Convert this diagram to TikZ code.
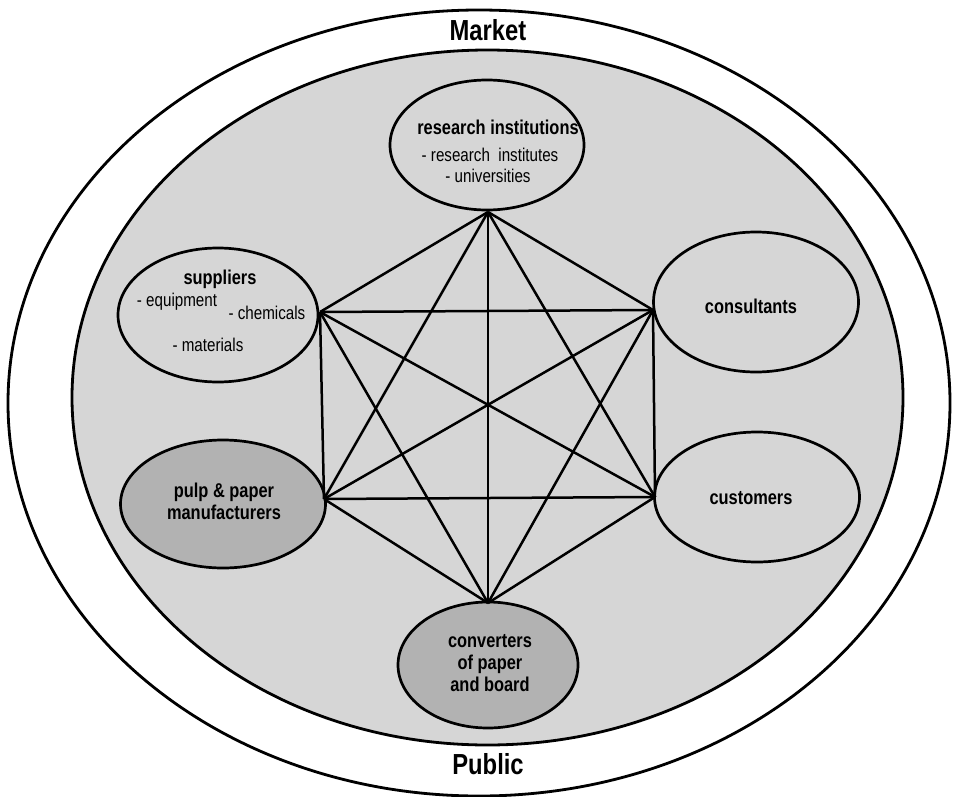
\documentclass[tikz,border=0pt]{standalone}
\usepackage{fontspec}
\setmainfont{Liberation Sans}[FakeStretch=0.82]
\usetikzlibrary{shapes.geometric}

\definecolor{fieldgray}{gray}{0.84}
\definecolor{actorgray}{gray}{0.70}

\tikzset{
  rim/.style={draw=black, line width=2.8pt},
  actor/.style={ellipse, draw=black, line width=2.7pt, fill=fieldgray, inner sep=0pt},
  core/.style={actor, fill=actorgray},
  link/.style={draw=black, line width=2.5pt},
  head/.style={font=\bfseries\fontsize{20}{22}\selectfont, inner sep=0pt},
  item/.style={font=\fontsize{18.5}{20}\selectfont, inner sep=0pt},
  ring/.style={font=\bfseries\fontsize{29}{32}\selectfont, inner sep=0pt},
}

\begin{document}
\begin{tikzpicture}[x=1pt, y=-1pt]
  \useasboundingbox (0,0) rectangle (955,797);
  \begin{scope}
    \clip (0,0) rectangle (955,797);
    % outer "market / public" ring and the shaded field inside it
    \draw[rim, fill=white] (479,403) ellipse [x radius=471pt, y radius=393pt];
    \draw[rim, fill=fieldgray] (487.5,397.5) ellipse [x radius=415.5pt, y radius=347.5pt];
  \end{scope}

  \node[ring] (market) at (488,30) {Market};
  \node[ring] (public) at (488,764) {Public};

  % the six actors
  \node[actor, minimum width=194pt, minimum height=130pt] (research) at (487,145) {};
  \node[actor, minimum width=200pt, minimum height=134pt] (suppliers) at (218,315) {};
  \node[actor, minimum width=205pt, minimum height=140pt] (consultants) at (756,302) {};
  \node[core,  minimum width=205pt, minimum height=128pt] (pulp) at (223,504) {};
  \node[actor, minimum width=205pt, minimum height=130pt] (customers) at (757,497) {};
  \node[core,  minimum width=180pt, minimum height=126pt] (converters) at (488,665) {};

  % texts of the actors
  \node[head] (t-research) at (498,127) {research institutions};
  \node[item] (t-inst) at (490,155) {- research\ \ institutes};
  \node[item] (t-univ) at (488,176) {- universities};

  \node[head] (t-suppliers) at (220,279) {suppliers};
  \node[item] (t-equip) at (177,302) {- equipment};
  \node[item] (t-chem) at (267,313) {- chemicals};
  \node[item] (t-mat) at (208,345) {- materials};

  \node[head] (t-consultants) at (751,306) {consultants};
  \node[head] (t-customers) at (751,498) {customers};

  \node[head, align=center] (t-pulp) at (224,501) {pulp \& paper\\manufacturers};
  \node[head, align=center] (t-conv) at (490,663) {converters\\of paper\\and board};

  % corners of the network, where it touches the actors
  \coordinate (T)  at (488,212);
  \coordinate (UL) at (320,312);
  \coordinate (UR) at (653,310);
  \coordinate (LL) at (324,499);
  \coordinate (LR) at (655,497);
  \coordinate (B)  at (488,603);

  % every actor linked with every other one
  \foreach \a/\b in {T/UL, T/UR, T/LL, T/LR, T/B,
                     UL/UR, UL/LL, UL/LR, UL/B,
                     UR/LL, UR/LR, UR/B,
                     LL/LR, LL/B, LR/B}
    \draw[link] (\a) -- (\b);
\end{tikzpicture}
\end{document}
